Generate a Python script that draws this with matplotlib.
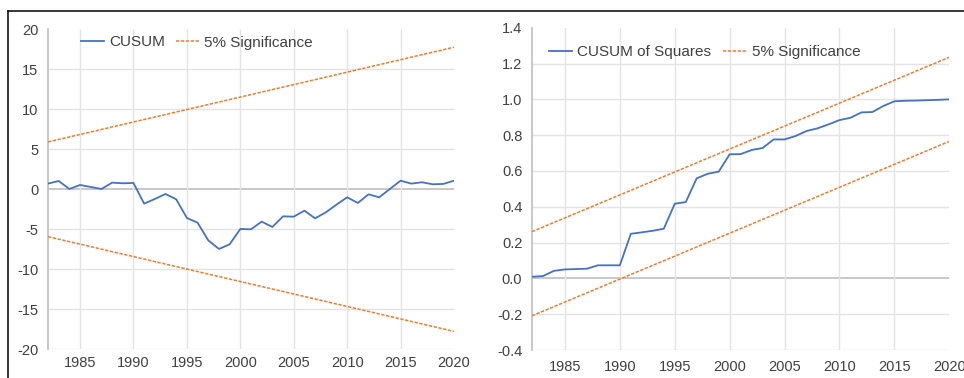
import matplotlib
matplotlib.use("Agg")
import matplotlib.pyplot as plt
from matplotlib.lines import Line2D

plt.rcParams['font.family'] = ['Liberation Sans', 'DejaVu Sans']

# ---- data ----
years = list(range(1982, 2021))

cusum = [0.71, 1.04, 0.04, 0.54, 0.29, 0.04, 0.83, 0.75, 0.79, -1.79,
         -1.21, -0.58, -1.25, -3.58, -4.17, -6.38, -7.46, -6.88, -4.96, -5.00,
         -4.04, -4.71, -3.38, -3.42, -2.67, -3.63, -2.88, -1.92, -1.00, -1.71,
         -0.63, -1.00, 0.04, 1.08, 0.71, 0.88, 0.63, 0.67, 1.08]

cusum_sq = [0.009, 0.013, 0.042, 0.050, 0.052, 0.054, 0.073, 0.073, 0.073, 0.249,
            0.257, 0.266, 0.277, 0.417, 0.426, 0.559, 0.584, 0.596, 0.693, 0.694,
            0.717, 0.728, 0.776, 0.776, 0.795, 0.823, 0.838, 0.860, 0.884, 0.897,
            0.927, 0.929, 0.963, 0.989, 0.992, 0.993, 0.995, 0.997, 1.000]

band_years = [1982, 2020]
cusum_upper = [5.92, 17.76]
cusum_lower = [-5.92, -17.76]
sq_upper = [0.261, 1.235]
sq_lower = [-0.209, 0.765]

x_ticks = [1985, 1990, 1995, 2000, 2005, 2010, 2015, 2020]
left_yticks = [-20, -15, -10, -5, 0, 5, 10, 15, 20]
right_yticks = [-0.4, -0.2, 0.0, 0.2, 0.4, 0.6, 0.8, 1.0, 1.2, 1.4]

BLUE = '#4472C4'
ORANGE = '#ED7D31'
GRID = '#E4E4E4'
AXIS = '#BFBFBF'
TXT = '#404040'

W, H = 964, 378
fig = plt.figure(figsize=(W / 100, H / 100), dpi=100)


def px_axes(x0, x1, y_top, y_bot):
    return fig.add_axes([x0 / W, 1 - y_bot / H, (x1 - x0) / W, (y_bot - y_top) / H])


def style(ax, yticks, ylim, fmt, ypad, xpad):
    ax.set_xlim(1982, 2020)
    ax.set_ylim(*ylim)
    for s in ('top', 'right', 'bottom'):
        ax.spines[s].set_visible(False)
    ax.spines['left'].set_color(AXIS)
    ax.spines['left'].set_linewidth(1.2)
    ax.set_yticks(yticks)
    ax.set_yticklabels([fmt(v) for v in yticks])
    ax.set_xticks(x_ticks)
    ax.set_xticklabels([str(v) for v in x_ticks])
    ax.tick_params(axis='both', length=0, labelsize=10.5, labelcolor=TXT)
    ax.tick_params(axis='y', pad=ypad)
    ax.tick_params(axis='x', pad=xpad)
    for v in yticks[:-1]:
        ax.axhline(v, color=AXIS if v == 0 else GRID,
                   lw=1.2 if v == 0 else 1.0, zorder=1)
    for v in x_ticks[:-1]:
        ax.axvline(v, color=GRID, lw=1.0, zorder=1)


dash = dict(ls=(0, (2.2, 1.0)), lw=1.1, color=ORANGE, zorder=3)

# ---- CUSUM panel ----
ax1 = px_axes(48, 454, 29.3, 349.3)
style(ax1, left_yticks, (-20, 20), lambda v: f"{v:d}", 7, 5)
ax1.plot(years, cusum, color=BLUE, lw=1.3, zorder=4, label='CUSUM')
ax1.plot(band_years, cusum_upper, label='5% Significance', **dash)
ax1.plot(band_years, cusum_lower, **dash)
ax1.legend(loc='center left', bbox_to_anchor=(81 / W, 1 - 42.5 / H),
           bbox_transform=fig.transFigure, ncol=2, frameon=False,
           fontsize=11, handlelength=1.5, handletextpad=0.35,
           columnspacing=0.7, borderpad=0, borderaxespad=0,
           labelcolor=TXT)

# ---- CUSUM of Squares panel ----
ax2 = px_axes(532, 949.3, 27.7, 350)
style(ax2, right_yticks, (-0.4, 1.4), lambda v: f"{v:.1f}", 7, 7)
ax2.plot(years, cusum_sq, color=BLUE, lw=1.3, zorder=4, label='CUSUM of Squares')
ax2.plot(band_years, sq_upper, label='5% Significance', **dash)
ax2.plot(band_years, sq_lower, **dash)
ax2.legend(loc='center left', bbox_to_anchor=(549 / W, 1 - 52 / H),
           bbox_transform=fig.transFigure, ncol=2, frameon=False,
           fontsize=11, handlelength=1.5, handletextpad=0.35,
           columnspacing=0.8, borderpad=0, borderaxespad=0,
           labelcolor=TXT)

# ---- outer frame lines ----
fig.add_artist(Line2D([8 / W, 1], [1 - 11 / H, 1 - 11 / H],
                      transform=fig.transFigure, color='black', lw=1.1))
fig.add_artist(Line2D([8 / W, 8 / W], [0, 1 - 11 / H],
                      transform=fig.transFigure, color='black', lw=1.1))

fig.savefig('out.png', dpi=100)
